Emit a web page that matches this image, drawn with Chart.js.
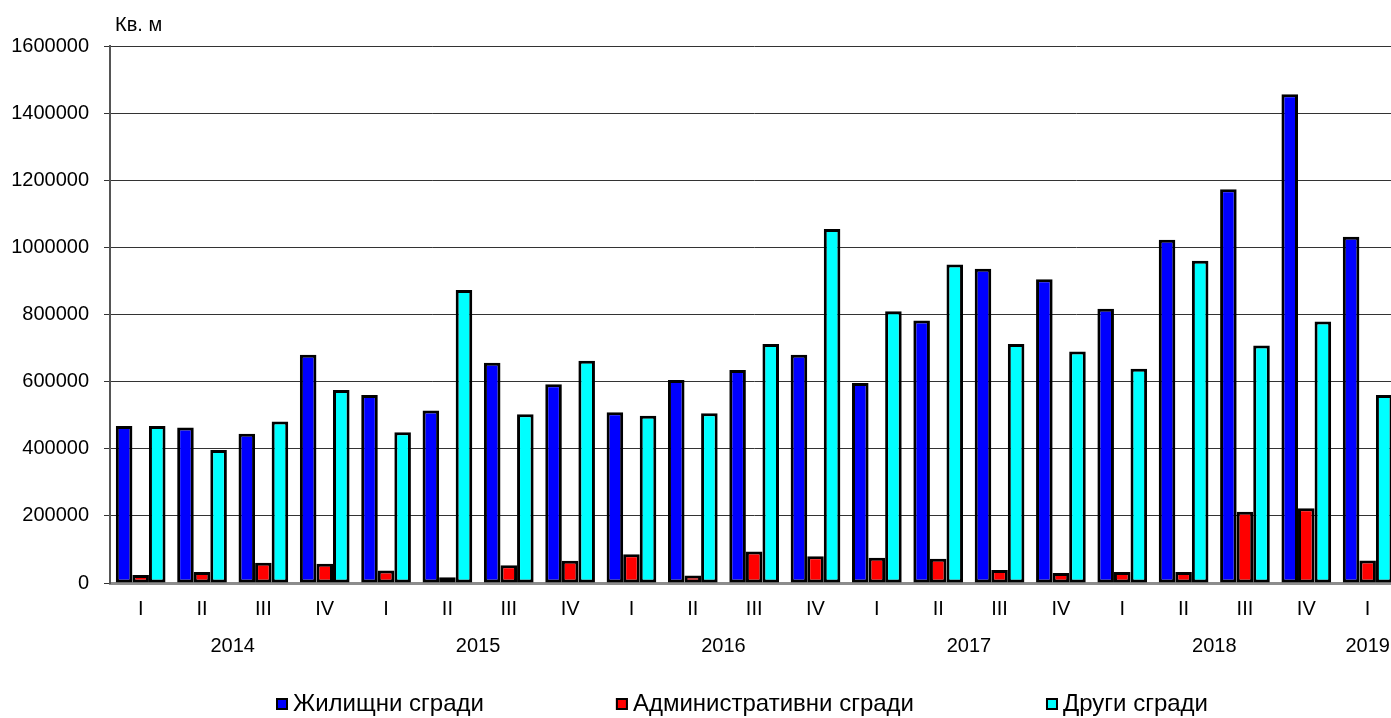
<!DOCTYPE html>
<html>
<head>
<meta charset="utf-8">
<script src="https://cdn.jsdelivr.net/npm/chart.js@4"></script>
<style>
html,body{margin:0;padding:0;background:#fff;overflow:hidden;}
canvas{display:block;}
</style>
</head>
<body>
<canvas id="myChart" width="1403" height="718"></canvas>
<script>
// quarters and the year each one belongs to
var quarters=['I','II','III','IV','I','II','III','IV','I','II','III','IV','I','II','III','IV','I','II','III','IV','I'];
var years=['2014','2014','2014','2014','2015','2015','2015','2015','2016','2016','2016','2016',
	'2017','2017','2017','2017','2018','2018','2018','2018','2019'];

// sq. m
var residential=[468000,463000,445000,680000,560000,514000,656000,592000,509000,605000,635000,680000,
	596000,782000,936000,905000,817000,1023000,1173000,1456000,1032000];
var administrative=[24000,33000,60000,57000,37000,17000,53000,66000,86000,22000,94000,80000,
	75000,72000,39000,30000,33000,33000,212000,223000,67000];
var other=[468000,396000,481000,575000,449000,873000,503000,662000,498000,506000,712000,1055000,
	810000,949000,712000,690000,638000,960000,708000,779000,560000];

var seriesNames=['Жилищни сгради','Административни сгради','Други сгради'];
var yTickValues=[0,200000,400000,600000,800000,1000000,1200000,1400000,1600000];
var unitLabel='Кв. м';

// one year label centred under its quarters
var yearTicks=[];
years.forEach(function(y,i){
	var last=yearTicks[yearTicks.length-1];
	if(last&&last.label===y){last.last=i;}
	else{yearTicks.push({label:y,first:i,last:i});}
});

Chart.defaults.font.family='"Liberation Sans", Arial, sans-serif';
Chart.defaults.font.size=20;
Chart.defaults.color='#000';

var extras={
	id:'extras',
	afterDraw:function(chart){
		var ctx=chart.ctx,area=chart.chartArea;
		ctx.save();
		ctx.fillStyle='#000';
		ctx.font='20px "Liberation Sans", Arial, sans-serif';
		ctx.textBaseline='middle';
		ctx.textAlign='left';
		ctx.fillText(unitLabel,area.left+5,25);

		// legend
		ctx.font='24px "Liberation Sans", Arial, sans-serif';
		var x=276,y=704;
		chart.data.datasets.forEach(function(ds){
			ctx.fillStyle=ds.backgroundColor;
			ctx.fillRect(x,y-6,12,12);
			ctx.strokeStyle='#000';
			ctx.lineWidth=2;
			ctx.strokeRect(x+1,y-5,10,10);
			ctx.fillStyle='#000';
			ctx.fillText(ds.label,x+17,y);
			x+=17+ctx.measureText(ds.label).width+132;
		});
		ctx.restore();
	}
};

var ctx=document.getElementById('myChart').getContext('2d');
var myChart=new Chart(ctx,{
	type:'bar',
	data:{
		labels:quarters,
		datasets:[
			{label:seriesNames[0],data:residential,backgroundColor:'#0000ff'},
			{label:seriesNames[1],data:administrative,backgroundColor:'#ff0000'},
			{label:seriesNames[2],data:other,backgroundColor:'#00ffff'}
		]
	},
	options:{
		responsive:false,
		animation:false,
		layout:{padding:{left:0,right:0,top:46,bottom:47}},
		datasets:{
			bar:{
				borderColor:'#000',
				borderWidth:3,
				borderSkipped:false,
				categoryPercentage:0.81,
				barPercentage:1.0
			}
		},
		plugins:{
			legend:{display:false},
			tooltip:{enabled:false}
		},
		scales:{
			x:{
				position:'bottom',
				weight:0,
				offset:true,
				afterFit:function(scale){scale.height=38;},
				grid:{display:false,drawTicks:false,tickLength:0},
				border:{display:true,color:'#8c8c8c',width:3},
				ticks:{padding:14,maxRotation:0,autoSkip:false}
			},
			yearAxis:{
				type:'linear',
				axis:'x',
				position:'bottom',
				weight:1,
				offset:false,
				min:-0.5,
				max:quarters.length-0.5,
				afterFit:function(scale){scale.height=50;},
				grid:{display:false,drawTicks:false,tickLength:0,offset:false},
				border:{display:false},
				afterBuildTicks:function(scale){
					scale.ticks=yearTicks.map(function(t){return {value:(t.first+t.last)/2};});
				},
				ticks:{
					padding:13,
					maxRotation:0,
					autoSkip:false,
					callback:function(value){
						for(var i=0;i<yearTicks.length;i++){
							if((yearTicks[i].first+yearTicks[i].last)/2===value)return yearTicks[i].label;
						}
						return '';
					}
				}
			},
			y:{
				min:yTickValues[0],
				max:yTickValues[yTickValues.length-1],
				afterBuildTicks:function(scale){
					scale.ticks=yTickValues.map(function(v){return {value:v};});
				},
				afterFit:function(scale){scale.width=110;},
				grid:{color:'#333',lineWidth:1,tickLength:6,drawTicks:true},
				border:{display:true,color:'#555',width:2},
				ticks:{
					padding:15,
					callback:function(v){return String(v);}
				}
			}
		}
	},
	plugins:[extras]
});
</script>
</body>
</html>
